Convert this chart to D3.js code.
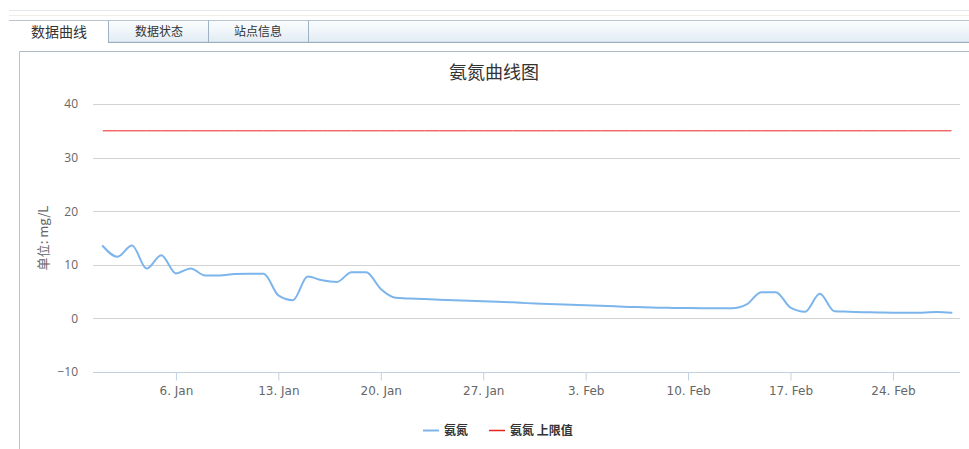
<!DOCTYPE html>
<html>
<head>
<meta charset="utf-8">
<script src="https://cdn.jsdelivr.net/npm/d3@7/dist/d3.min.js"></script>
<style>
  html, body { margin: 0; padding: 0; background: #fff; }
  svg { display: block; }
  text { font-family: "Noto Sans CJK SC", "Noto Sans", sans-serif; }
</style>
</head>
<body>
<svg id="chart" width="969" height="449"></svg>
<script>
// Tabs above the chart panel
const tabLabels = ["数据曲线", "数据状态", "站点信息"];

// Chart texts
const chartTitle = "氨氮曲线图";
const yAxisTitle = "单位: mg/L";
const seriesNames = ["氨氮", "氨氮 上限值"];

// Daily ammonia-nitrogen readings, 1 Jan – 28 Feb
const startDay = "2019-01-01";
const endDay = "2019-03-01";
const ammonia = [
  13.5, 11.5, 13.6, 9.3, 11.8, 8.4, 9.3, 8.0, 8.0, 8.3,
  8.35, 8.35, 4.3, 3.4, 7.8, 7.1, 6.8, 8.6, 8.6, 5.5,
  3.85, 3.7, 3.6, 3.5, 3.4, 3.3, 3.2, 3.1, 3.0, 2.85, 2.75,
  2.65, 2.55, 2.45, 2.35, 2.25, 2.15, 2.1, 2.0, 1.95, 1.92,
  1.9, 1.88, 1.88, 2.6, 4.9, 4.9, 2.0, 1.25, 4.6, 1.35,
  1.25, 1.15, 1.1, 1.05, 1.05, 1.05, 1.2, 1.05
];
// Upper limit for ammonia nitrogen
const upperLimit = 35;

// Axis ticks
const yTicks = [-10, 0, 10, 20, 30, 40];
const xTickDates = ["2019-01-06", "2019-01-13", "2019-01-20", "2019-01-27",
                    "2019-02-03", "2019-02-10", "2019-02-17", "2019-02-24"];
const monthNames = ["Jan", "Feb", "Mar", "Apr", "May", "Jun",
                    "Jul", "Aug", "Sep", "Oct", "Nov", "Dec"];

const parse = d3.utcParse("%Y-%m-%d");
const days = d3.utcDay.range(parse(startDay), parse(endDay));
const data = days.map((d, i) => ({ date: d, value: ammonia[i] }));

const svg = d3.select("#chart");

// ---- tab strip ----
const defs = svg.append("defs");
const grad = defs.append("linearGradient").attr("id", "tabbar").attr("x1", 0).attr("y1", 0).attr("x2", 0).attr("y2", 1);
grad.append("stop").attr("offset", "0%").attr("stop-color", "#fbfdfe");
grad.append("stop").attr("offset", "100%").attr("stop-color", "#e2ecf3");

svg.append("line").attr("x1", 9).attr("x2", 969).attr("y1", 10.5).attr("y2", 10.5).attr("stroke", "#e6e8ea");
svg.append("line").attr("x1", 9).attr("x2", 969).attr("y1", 15.5).attr("y2", 15.5).attr("stroke", "#efede6");

const tabLeft = 9, barTop = 20.5, barBottom = 42.5;
svg.append("rect").attr("x", tabLeft).attr("y", barTop).attr("width", 969 - tabLeft).attr("height", barBottom - barTop)
  .attr("fill", "url(#tabbar)");
svg.append("rect").attr("x", tabLeft).attr("y", barTop).attr("width", 108 - tabLeft).attr("height", barBottom - barTop + 1)
  .attr("fill", "#fff");
svg.append("line").attr("x1", tabLeft).attr("x2", 969).attr("y1", barTop).attr("y2", barTop).attr("stroke", "#b9c5d0");
svg.append("line").attr("x1", 108).attr("x2", 969).attr("y1", barBottom - 1).attr("y2", barBottom - 1).attr("stroke", "#d3e2ee");
svg.append("line").attr("x1", 108).attr("x2", 969).attr("y1", barBottom).attr("y2", barBottom).attr("stroke", "#9cadbd");
[108.5, 208.5, 308.5].forEach(x => {
  svg.append("line").attr("x1", x).attr("x2", x).attr("y1", barTop).attr("y2", barBottom).attr("stroke", "#9fb2c4");
});
const tabCenters = [59, 159, 258];
tabLabels.forEach((t, i) => {
  svg.append("text").attr("x", tabCenters[i]).attr("y", i === 0 ? 36.5 : 35.5)
    .attr("text-anchor", "middle").attr("fill", "#333")
    .style("font-size", i === 0 ? "14px" : "12px")
    .text(t);
});

// ---- chart panel border ----
svg.append("line").attr("x1", 19.5).attr("x2", 969).attr("y1", 51.5).attr("y2", 51.5).attr("stroke", "#a9bac9");
svg.append("line").attr("x1", 19.5).attr("x2", 19.5).attr("y1", 51.5).attr("y2", 449).attr("stroke", "#b4c6d6");

// ---- plot area ----
const plot = { left: 93, right: 960, top: 104, bottom: 372 };
const x = d3.scaleUtc()
  .domain([d3.utcHour.offset(parse(startDay), -16), d3.utcHour.offset(parse("2019-02-28"), 14)])
  .range([plot.left, plot.right]);
const y = d3.scaleLinear().domain([-10, 40]).range([plot.bottom, plot.top]);

// title
svg.append("text").attr("x", 494).attr("y", 79).attr("text-anchor", "middle")
  .attr("fill", "#333").style("font-size", "18px").text(chartTitle);

// horizontal grid lines
svg.append("g").selectAll("line").data(yTicks).join("line")
  .attr("x1", plot.left).attr("x2", plot.right)
  .attr("y1", d => Math.round(y(d)) + 0.5).attr("y2", d => Math.round(y(d)) + 0.5)
  .attr("stroke", "#d2d2d2");

// y axis labels
const yAxis = d3.axisLeft(y).tickValues(yTicks).tickSize(0).tickPadding(15);
const yg = svg.append("g").attr("transform", `translate(${plot.left},0)`).call(yAxis);
yg.select(".domain").remove();
yg.selectAll("text").attr("fill", "#666").style("font-size", "12px")
  .style("font-family", "'Open Sans', 'Noto Sans', sans-serif");

// y axis title
svg.append("text")
  .attr("transform", `translate(48,${(plot.top + plot.bottom) / 2}) rotate(-90)`)
  .attr("text-anchor", "middle").attr("fill", "#666").style("font-size", "13px")
  .text(yAxisTitle);

// x axis
const xAxis = d3.axisBottom(x)
  .tickValues(xTickDates.map(parse))
  .tickSize(8).tickPadding(6)
  .tickFormat(d => `${d.getUTCDate()}. ${monthNames[d.getUTCMonth()]}`);
const xg = svg.append("g").attr("transform", `translate(0,${Math.round(y(-10)) + 0.5})`).call(xAxis);
xg.select(".domain").attr("stroke", "#c0d0e0").attr("d", `M${plot.left},0H${plot.right}`);
xg.selectAll(".tick line").attr("stroke", "#c0d0e0");
xg.selectAll("text").attr("fill", "#666").style("font-size", "12px")
  .style("font-family", "'DejaVu Sans', Verdana, sans-serif");

// upper limit line
const limitData = days.map(d => ({ date: d, value: upperLimit }));
svg.append("path").datum(limitData)
  .attr("fill", "none").attr("stroke", "#e8241f").attr("stroke-width", 1)
  .attr("d", d3.line().x(d => x(d.date)).y(d => y(d.value)));

// ammonia series
svg.append("path").datum(data)
  .attr("fill", "none").attr("stroke", "#7cb5ec").attr("stroke-width", 2)
  .attr("stroke-linejoin", "round").attr("stroke-linecap", "round")
  .attr("d", d3.line().curve(d3.curveMonotoneX).x(d => x(d.date)).y(d => y(d.value)));

// legend
const legendColors = ["#7cb5ec", "#e8241f"];
const legend = svg.append("g").attr("transform", "translate(423,430)");
let lx = 0;
seriesNames.forEach((name, i) => {
  const item = legend.append("g").attr("transform", `translate(${lx},0)`);
  item.append("line").attr("x1", 0).attr("x2", 16).attr("y1", 0.5).attr("y2", 0.5)
    .attr("stroke", legendColors[i]).attr("stroke-width", i === 0 ? 2 : 1.5);
  const t = item.append("text").attr("x", 21).attr("y", 4.5).attr("fill", "#333")
    .style("font-size", "12px").style("font-weight", "bold").text(name);
  lx += 21 + t.node().getComputedTextLength() + 21;
});
</script>
</body>
</html>
